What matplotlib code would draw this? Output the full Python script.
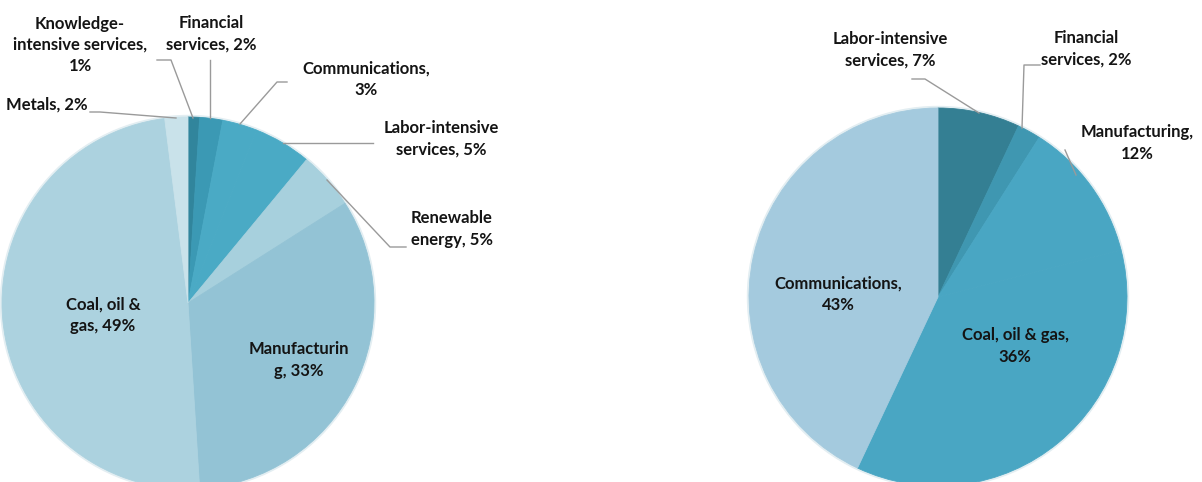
import matplotlib.pyplot as plt

# Left pie (clockwise from 12 o'clock)
left_labels = ["Knowledge-\nintensive services,\n1%", "Financial\nservices, 2%",
               "Communications,\n3%", "Labor-intensive\nservices, 5%",
               "Renewable\nenergy, 5%", "Manufacturin\ng, 33%",
               "Coal, oil &\ngas, 49%", "Metals, 2%"]
left_values = [1, 2, 3, 5, 5, 33, 49, 2]
left_colors = ["#31859c", "#3b99b4", "#4aaac5", "#4aaac5",
               "#a7d0dd", "#93c3d5", "#acd2df", "#c9e2ea"]

# Right pie (clockwise from 12 o'clock)
right_labels = ["Labor-intensive\nservices, 7%", "Financial\nservices, 2%",
                "Manufacturing,\n12%", "Coal, oil & gas,\n36%",
                "Communications,\n43%"]
right_values = [7, 2, 12, 36, 43]
right_colors = ["#347f93", "#3f97b1", "#49a6c3", "#49a6c3", "#a4cade"]

W, H = 1202, 482


def Y(y):
    # pixel row (from top) -> data y
    return H - y


fig = plt.figure(figsize=(W / 100, H / 100), dpi=100)
ax = fig.add_axes([0, 0, 1, 1])

font = dict(family=["Lato", "DejaVu Sans"], fontsize=12, fontweight="bold",
            color="#141414", ha="center", va="center", linespacing=1.42)
line = dict(color="#9a9a9a", lw=1)

# pies
for vals, cols, cx, cy, r in [(left_values, left_colors, 188, 303, 186),
                              (right_values, right_colors, 938, 297, 189)]:
    ax.add_patch(plt.Circle((cx, Y(cy)), r + 1.5, color="#e3eef2", zorder=0))
    wedges, _ = ax.pie(vals, colors=cols, startangle=90, counterclock=False,
                       center=(cx, Y(cy)), radius=r, frame=True,
                       wedgeprops=dict(linewidth=0.6))
    for w in wedges:
        w.set_edgecolor(w.get_facecolor())

# left labels: (x, y) of text, leader points
left_pos = [(80, 45), (211, 34), (366, 79), (441, 139), (452, 229),
            (299, 360), (103, 315), (47, 105)]
left_leaders = [
    [(157, 60), (171, 60), (193, 118)],
    [(210, 60), (210, 118)],
    [(287, 82), (277, 82), (240, 124)],
    [(373, 143), (283, 143)],
    [(406, 247), (390, 247), (327, 180)],
    None, None,
    [(90, 112), (100, 112), (176, 118)],
]
for lab, (x, y), ld in zip(left_labels, left_pos, left_leaders):
    ax.text(x, Y(y), lab, **font)
    if ld:
        ax.plot([p[0] for p in ld], [Y(p[1]) for p in ld], **line)

right_pos = [(890, 50), (1086, 49), (1137, 143), (1015, 346), (838, 294)]
right_leaders = [
    [(912, 79), (925, 79), (979, 113)],
    [(1040, 65), (1024, 65), (1022, 128)],
    [(1065, 150), (1076, 175)],
    None, None,
]
for lab, (x, y), ld in zip(right_labels, right_pos, right_leaders):
    ax.text(x, Y(y), lab, **font)
    if ld:
        ax.plot([p[0] for p in ld], [Y(p[1]) for p in ld], **line)

ax.set_xlim(0, W)
ax.set_ylim(0, H)
ax.set_aspect("equal")
ax.axis("off")

fig.savefig("out.png", dpi=100)
